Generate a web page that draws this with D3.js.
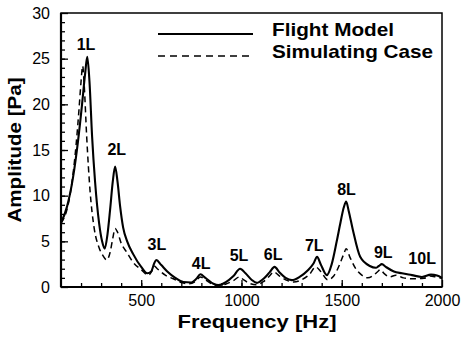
<!DOCTYPE html>
<html>
<head>
<meta charset="utf-8">
<script src="https://cdn.jsdelivr.net/npm/d3@7"></script>
<style>
  html, body { margin: 0; padding: 0; background: #fff; }
  svg { display: block; font-family: "Liberation Sans", Arial, sans-serif; }
</style>
</head>
<body>
<svg id="chart" width="461" height="337"></svg>
<script>
"use strict";

// Flight Model (solid)
const flightFreq = [100, 130, 160, 185, 205, 220, 231, 242, 255, 270, 290, 305, 318, 332, 345, 358, 370, 382, 395, 410, 430, 460, 500, 530, 550, 565, 575, 600, 630, 670, 710, 750, 775, 795, 820, 860, 885, 920, 960, 993, 1020, 1050, 1077, 1110, 1140, 1165, 1190, 1220, 1251, 1290, 1330, 1360, 1377, 1395, 1426, 1450, 1475, 1495, 1510, 1522, 1535, 1555, 1592, 1640, 1670, 1685, 1700, 1720, 1760, 1800, 1850, 1900, 1945, 1975, 2000];
const flightAmp = [7.0, 8.8, 12.0, 16.0, 20.0, 23.3, 25.2, 22.5, 16.5, 11.5, 7.0, 5.0, 4.2, 5.8, 8.5, 11.5, 13.2, 11.5, 8.8, 6.5, 5.0, 3.6, 2.2, 1.5, 1.7, 2.6, 2.95, 2.4, 1.7, 1.0, 0.55, 0.5, 0.9, 1.4, 1.0, 0.35, 0.2, 0.5, 1.2, 2.0, 1.5, 0.8, 0.45, 0.9, 1.6, 2.2, 1.6, 1.0, 0.75, 1.1, 1.8, 2.6, 3.3, 2.5, 1.3, 2.5, 5.0, 7.2, 8.7, 9.35, 8.3, 6.3, 3.3, 2.3, 2.1, 2.3, 2.5, 2.2, 1.7, 1.5, 1.3, 1.1, 1.35, 1.25, 1.0];

// Simulating Case (dashed)
const simFreq = [100, 130, 155, 175, 190, 200, 208, 216, 228, 245, 265, 290, 310, 328, 345, 358, 370, 382, 400, 428, 460, 500, 536, 552, 564, 580, 620, 660, 700, 740, 770, 795, 820, 860, 885, 920, 960, 990, 1010, 1040, 1077, 1110, 1140, 1160, 1190, 1230, 1260, 1300, 1340, 1370, 1395, 1430, 1460, 1490, 1510, 1522, 1540, 1570, 1600, 1630, 1660, 1680, 1693, 1710, 1740, 1770, 1808, 1860, 1910, 1940, 1970, 2000];
const simAmp = [7.0, 8.5, 11.5, 15.5, 19.5, 22.5, 24.2, 22.0, 16.5, 10.5, 6.5, 4.3, 3.4, 2.95, 3.8, 5.3, 6.4, 6.0, 4.8, 3.8, 2.7, 1.9, 1.3, 1.7, 2.3, 2.0, 1.3, 0.9, 0.5, 0.35, 0.6, 1.1, 0.8, 0.25, 0.1, 0.3, 0.7, 1.1, 0.8, 0.4, 0.25, 0.6, 1.2, 1.65, 1.2, 0.7, 0.55, 0.8, 1.4, 2.2, 1.7, 0.8, 1.2, 2.5, 3.6, 4.2, 3.3, 2.0, 1.3, 1.0, 1.3, 1.7, 1.9, 1.5, 1.1, 1.3, 1.0, 0.9, 0.95, 1.2, 1.1, 0.95];

// Mode labels, anchored in data units (centre freq, baseline amplitude)
const modeLabels = ["1L", "2L", "3L", "4L", "5L", "6L", "7L", "8L", "9L", "10L"];
const modeFreq = [225, 378, 578, 799, 988, 1158, 1363, 1524, 1707, 1901];
const modeAmp = [26.0, 14.5, 4.0, 2.0, 2.9, 3.0, 3.9, 10.1, 3.2, 2.5];

const xMajorTicks = [500, 1000, 1500, 2000];
const yMajorTicks = [0, 5, 10, 15, 20, 25, 30];
const legendNames = ["Flight Model", "Simulating Case"];

const width = 461, height = 337;
const margin = { top: 13, right: 19, bottom: 50, left: 61 };
const innerW = width - margin.left - margin.right;
const innerH = height - margin.top - margin.bottom;

const svg = d3.select("#chart");
const g = svg.append("g").attr("transform", `translate(${margin.left},${margin.top})`);

const x = d3.scaleLinear().domain([100, 2000]).range([0, innerW]);
const y = d3.scaleLinear().domain([0, 30]).range([innerH, 0]);

// minor ticks
g.append("g")
    .attr("transform", `translate(0,${innerH})`)
    .call(d3.axisBottom(x).tickValues(d3.range(200, 2000, 100)).tickSize(-4).tickFormat(""))
    .call(a => a.select(".domain").remove());
g.append("g")
    .call(d3.axisLeft(y).tickValues(d3.range(1, 30, 1)).tickSize(-4).tickFormat(""))
    .call(a => a.select(".domain").remove());

// major ticks + labels
const xAxis = g.append("g")
    .attr("transform", `translate(0,${innerH})`)
    .call(d3.axisBottom(x).tickValues(xMajorTicks).tickSize(-7).tickPadding(8).tickFormat(d3.format("d")));
xAxis.select(".domain").remove();
xAxis.selectAll("text").attr("font-size", 16).attr("font-family", "Liberation Sans, Arial, sans-serif");

const yAxis = g.append("g")
    .call(d3.axisLeft(y).tickValues(yMajorTicks).tickSize(-7).tickPadding(11));
yAxis.select(".domain").remove();
yAxis.selectAll("text").attr("font-size", 16).attr("font-family", "Liberation Sans, Arial, sans-serif");

g.selectAll(".tick line").attr("stroke", "#000").attr("stroke-width", 1.3);

// frame
g.append("rect")
    .attr("width", innerW).attr("height", innerH)
    .attr("fill", "none").attr("stroke", "#000").attr("stroke-width", 1.5);
g.append("line").attr("x1", 0).attr("x2", 0).attr("y1", 0).attr("y2", innerH)
    .attr("stroke", "#000").attr("stroke-width", 2.2);
g.append("line").attr("x1", 0).attr("x2", innerW).attr("y1", innerH).attr("y2", innerH)
    .attr("stroke", "#000").attr("stroke-width", 2.2);

// curves
const line = d3.line().x(d => x(d[0])).y(d => y(d[1])).curve(d3.curveMonotoneX);
g.append("path")
    .datum(d3.zip(simFreq, simAmp))
    .attr("d", line)
    .attr("fill", "none").attr("stroke", "#000").attr("stroke-width", 1.5)
    .attr("stroke-dasharray", "6,4");
g.append("path")
    .datum(d3.zip(flightFreq, flightAmp))
    .attr("d", line)
    .attr("fill", "none").attr("stroke", "#000").attr("stroke-width", 2.1);

// mode labels
g.selectAll("text.mode")
    .data(modeLabels)
    .join("text").attr("class", "mode")
    .attr("x", (d, i) => x(modeFreq[i]))
    .attr("y", (d, i) => y(modeAmp[i]))
    .attr("text-anchor", "middle")
    .attr("font-size", 16).attr("font-weight", "bold")
    .text(d => d);

// legend
const legend = svg.append("g");
const legendY = [34, 56];
legendNames.forEach((name, i) => {
    legend.append("line")
        .attr("x1", 158).attr("x2", 253)
        .attr("y1", legendY[i]).attr("y2", legendY[i])
        .attr("stroke", "#000").attr("stroke-width", i === 0 ? 2 : 1.4)
        .attr("stroke-dasharray", i === 0 ? null : "7,5");
    legend.append("text")
        .attr("x", 272).attr("y", legendY[i] + 2)
        .attr("font-size", 19).attr("font-weight", "bold")
        .attr("textLength", i === 0 ? 122 : 161).attr("lengthAdjust", "spacingAndGlyphs")
        .text(name);
});

// axis titles
svg.append("text")
    .attr("x", 257).attr("y", 328)
    .attr("text-anchor", "middle")
    .attr("font-size", 19).attr("font-weight", "bold")
    .attr("textLength", 159).attr("lengthAdjust", "spacingAndGlyphs")
    .text("Frequency [Hz]");
svg.append("text")
    .attr("transform", `translate(21,${margin.top + innerH / 2}) rotate(-90)`)
    .attr("text-anchor", "middle")
    .attr("font-size", 19).attr("font-weight", "bold")
    .attr("textLength", 145).attr("lengthAdjust", "spacingAndGlyphs")
    .text("Amplitude [Pa]");
</script>
</body>
</html>
